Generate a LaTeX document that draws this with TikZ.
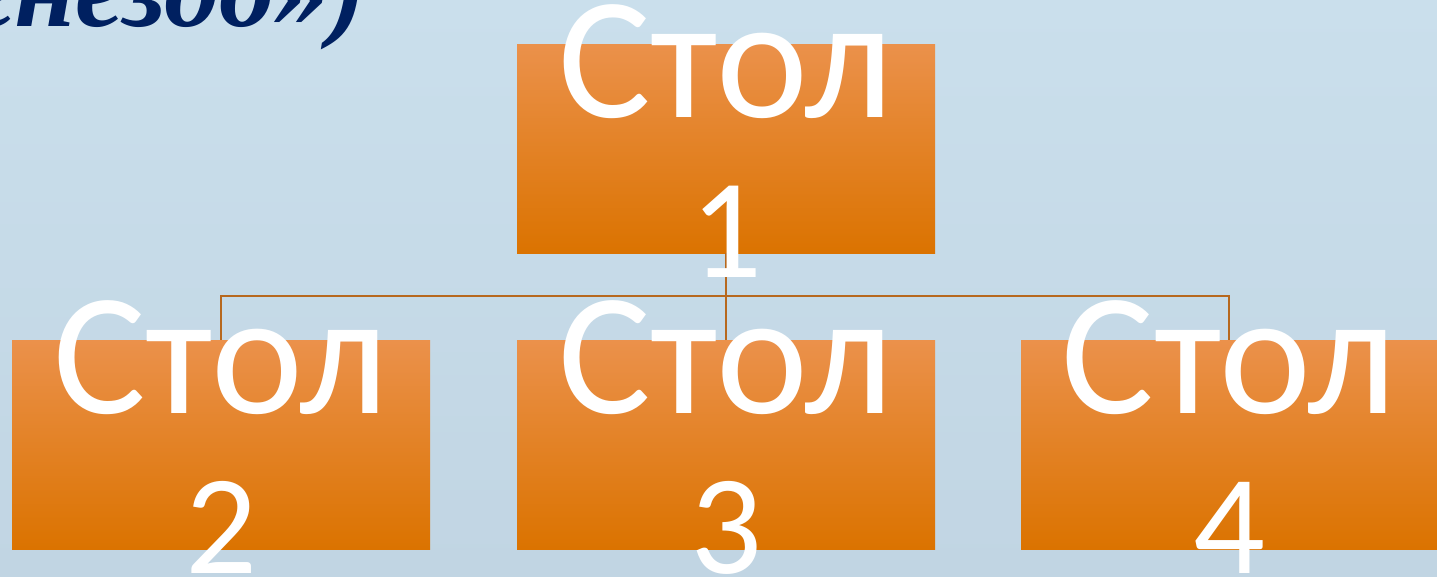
\documentclass[tikz,border=0pt]{standalone}
\usepackage{fontspec}
\setmainfont{Carlito}
\newfontfamily\titlefont{Liberation Serif}
\definecolor{bgtop}{RGB}{202,223,236}
\definecolor{bgbot}{RGB}{193,213,227}
\definecolor{boxtop}{RGB}{235,145,75}
\definecolor{boxmid}{RGB}{236,134,12}
\definecolor{boxbot}{RGB}{219,115,0}
\definecolor{linkcol}{RGB}{183,104,30}
\definecolor{titlecol}{RGB}{0,32,96}
\tikzset{
  tablebox/.style={rectangle, inner sep=0pt, minimum width=418pt, minimum height=209pt,
    top color=boxtop, middle color=boxmid, bottom color=boxbot, draw=none},
  lbl/.style={anchor=base, inner sep=0pt, text=white, font=\fontsize{174}{160}\selectfont},
  numlbl/.style={lbl, font=\fontsize{142}{160}\selectfont},
  link/.style={draw=linkcol, line width=2pt},
  titletext/.style={anchor=base west, inner sep=0pt, text=titlecol,
    font=\titlefont\bfseries\itshape\fontsize{110}{120}\selectfont}
}
\begin{document}
\begin{tikzpicture}[x=1pt,y=-1pt]
\useasboundingbox (0,0) rectangle (1437,576);
\fill[top color=bgtop, bottom color=bgbot] (0,0) rectangle (1437,576);
\node[titletext] (title) at (-26,26) {гнездо»)};
\node[tablebox] (b1) at (726,148.5) {};
\node[tablebox] (b2) at (221,444.5) {};
\node[tablebox] (b3) at (726,444.5) {};
\node[tablebox, minimum width=416pt] (b4) at (1229,444.5) {};
\coordinate (bus) at (726,296);
\draw[link] (b1.south) -- (bus);
\draw[link] (bus) -| (b2.north);
\draw[link] (bus) -- (b3.north);
\draw[link] (bus) -| (b4.north);
\node[lbl] (t1a) at (726,117) {Стол};
\node[numlbl] (t1b) at (726,277) {1};
\node[lbl] (t2a) at (221,413) {Стол};
\node[numlbl] (t2b) at (221,573) {2};
\node[lbl] (t3a) at (726,413) {Стол};
\node[numlbl] (t3b) at (726,573) {3};
\node[lbl] (t4a) at (1229,413) {Стол};
\node[numlbl] (t4b) at (1229,573) {4};
\end{tikzpicture}
\end{document}
